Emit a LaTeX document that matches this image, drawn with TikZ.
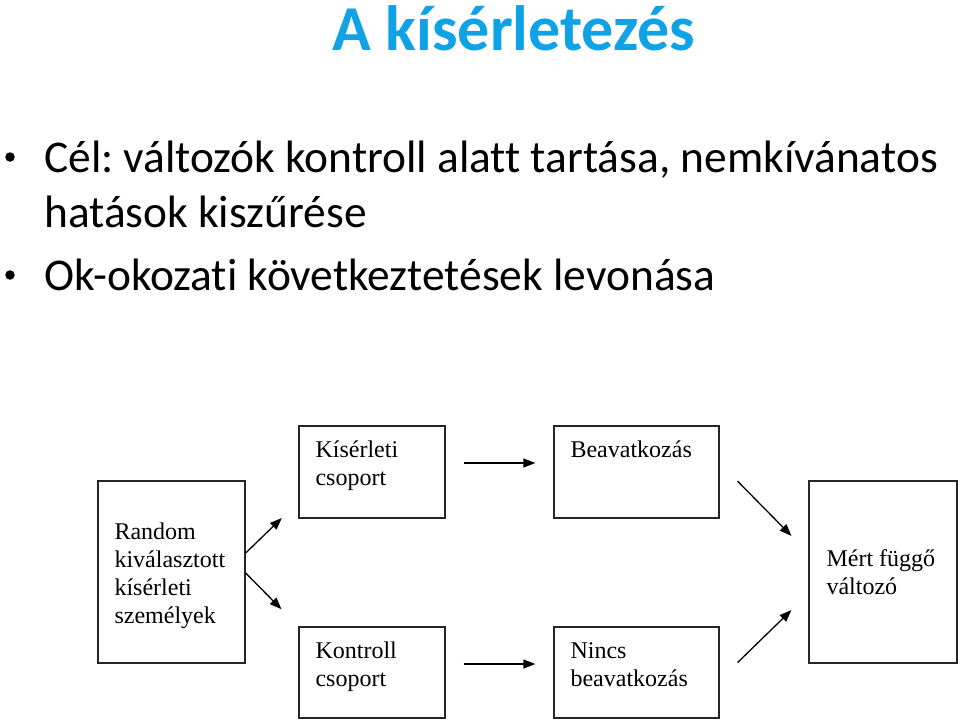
\documentclass[tikz,border=0pt]{standalone}
\usepackage{fontspec}
\setmainfont{Liberation Serif}
\newfontfamily\slidefont[Ligatures=NoCommon]{Carlito}
\usetikzlibrary{arrows.meta,positioning,calc}
\usepackage{xcolor}
\definecolor{titleblue}{HTML}{0FA3E6}
\definecolor{boxline}{HTML}{262626}
\frenchspacing

\begin{document}
\begin{tikzpicture}[
  x=1pt, y=-1pt,
  font=\fontsize{24}{28}\selectfont,
  box/.style={draw=boxline, line width=1.3pt, inner sep=0pt},
  boxtxt/.style={anchor=north west, align=left, inner sep=0pt, label distance=0pt},
  bul/.style={font=\slidefont\fontsize{45.4}{55}\selectfont, anchor=base west, inner sep=0pt, align=left},
  dot/.style={circle, fill=black, inner sep=0pt, minimum size=9.5pt},
  arr/.style={-{Triangle[length=12pt,width=9pt]}, line width=1.3pt},
  >=Stealth
]
\useasboundingbox (0,0) rectangle (960,723);

% slide text
\node[font=\slidefont\bfseries\fontsize{64}{64}\selectfont, text=titleblue, anchor=base, inner sep=0pt] (title) at (514,50) {A kísérletezés};
\node[dot] (b1) at (10,157) {};
\node[bul] (item1) at (44,227) {Cél: változók kontroll alatt tartása, nemkívánatos\\hatások kiszűrése};
\node[dot] (b2) at (10,275) {};
\node[bul] (item2) at (44,290) {Ok-okozati következtetések levonása};

% boxes
\node[box, minimum width=147, minimum height=182,
  label={[boxtxt, xshift=17pt, yshift=-39.4pt]north west:{\strut Random\\kiválasztott\\kísérleti\\személyek}}] (rnd) at (171.5,572) {};
\node[box, minimum width=146, minimum height=92,
  label={[boxtxt, xshift=17pt, yshift=-12.4pt]north west:{\strut Kísérleti\\csoport}}] (kis) at (372,472) {};
\node[box, minimum width=146, minimum height=91,
  label={[boxtxt, xshift=17pt, yshift=-12.4pt]north west:{\strut Kontroll\\csoport}}] (kon) at (372,672.5) {};
\node[box, minimum width=165, minimum height=92,
  label={[boxtxt, xshift=17pt, yshift=-12.4pt]north west:{\strut Beavatkozás}}] (bea) at (636.5,472) {};
\node[box, minimum width=165, minimum height=91,
  label={[boxtxt, xshift=17pt, yshift=-12.4pt]north west:{\strut Nincs\\beavatkozás}}] (nin) at (636.5,672.5) {};
\node[box, minimum width=148, minimum height=182,
  label={[boxtxt, xshift=18pt, yshift=-66.4pt]north west:{\strut Mért függő\\változó}}] (mert) at (883,572) {};

% arrows
\draw[arr, shorten >=23pt] ([yshift=19pt]rnd.east) -- ([yshift=-30pt]kis.west);
\draw[arr, shorten >=24pt] ([yshift=-1pt]rnd.east) -- (kon.north west);
\draw[arr, shorten <=18pt, shorten >=18pt] ([yshift=9pt]kis.east) -- ([yshift=9pt]bea.west);
\draw[arr, shorten <=18pt, shorten >=18pt] ([yshift=8.5pt]kon.east) -- ([yshift=8.5pt]nin.west);
\draw[arr, shorten <=25.5pt, shorten >=24pt] ([yshift=9pt]bea.east) -- ([yshift=19pt]mert.west);
\draw[arr, shorten <=25pt, shorten >=23.6pt] ([yshift=-7.5pt]nin.east) -- ([yshift=-21.6pt]mert.west);

\end{tikzpicture}
\end{document}
